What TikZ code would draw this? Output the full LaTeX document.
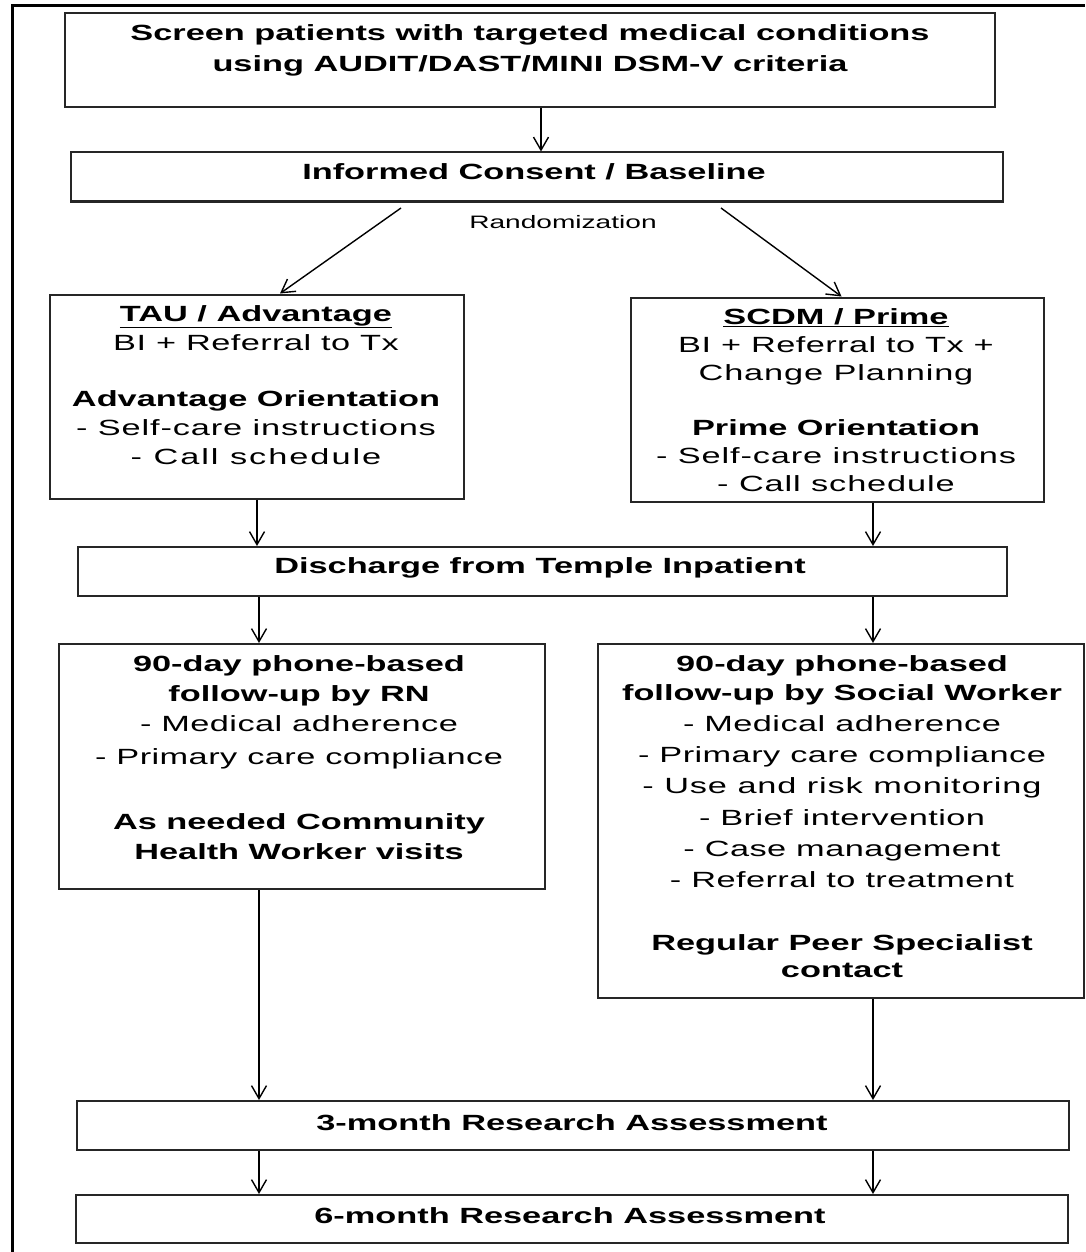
\documentclass[tikz,border=0pt]{standalone}
\usepackage{fontspec}
\setmainfont{Liberation Sans}[FakeStretch=1.56]
\newfontfamily\spaced{Liberation Sans}[FakeStretch=1.56,LetterSpace=2]
\newfontfamily\spacedm{Liberation Sans}[FakeStretch=1.56,LetterSpace=4]
\newfontfamily\spacedw{Liberation Sans}[FakeStretch=1.56,LetterSpace=9]
\usetikzlibrary{arrows.meta}
\tikzset{
  box/.style={draw=black!85, line width=2pt, inner sep=0pt, fill=none},
  arr/.style={line width=1.4pt, -{Straight Barb[length=13pt,width=15pt,line width=1.4pt]}},
  txt/.style={inner sep=0pt, align=center, font=\fontsize{22}{29}\selectfont},
  btxt/.style={inner sep=0pt, align=center, font=\fontsize{22}{29}\selectfont\bfseries},
}
\begin{document}
\begin{tikzpicture}[x=1pt,y=-1pt]
\useasboundingbox (0,0) rectangle (1085,1252);
% outer frame (top and left only)
\draw[line width=3pt] (12,1252) -- (12,6) -- (1085,6);

% boxes
\node[box, minimum width=930pt, minimum height=94pt] (b1) at (530,60) {};
\node[box, minimum width=932pt, minimum height=49pt] (b2) at (537,177) {};
\node[box, minimum width=414pt, minimum height=204pt] (tau) at (257,396.5) {};
\node[box, minimum width=413pt, minimum height=204pt] (scdm) at (837.5,399.5) {};
\node[box, minimum width=929pt, minimum height=49pt] (dis) at (542.5,571.5) {};
\node[box, minimum width=486pt, minimum height=245pt] (rn) at (301.5,766.5) {};
\node[box, minimum width=486pt, minimum height=354pt] (sw) at (841,821) {};
\node[box, minimum width=992pt, minimum height=49pt] (m3) at (572.5,1125.5) {};
\node[box, minimum width=992pt, minimum height=48pt] (m6) at (571.5,1219) {};

% texts
\node[btxt, anchor=north, font=\fontsize{22}{31}\selectfont\bfseries] (t1) at (530,24)
  {Screen patients with targeted medical conditions\\using AUDIT/DAST/MINI DSM-V criteria};
\node[btxt] (t2) at (534,172) {Informed Consent / Baseline};
\node[txt, font=\fontsize{18}{22}\selectfont] (trand) at (563,222) {Randomization};
\node[txt, anchor=north] (ttau) at (256,305)
  {\textbf{\underline{TAU / Advantage}}\\{\spaced BI + Referral to Tx}\\[27pt]
   \textbf{Advantage Orientation}\\{\spacedm - Self-care instructions}\\{\spacedw - Call schedule}};
\node[txt, anchor=north, font=\fontsize{22}{28}\selectfont] (tscdm) at (836,308)
  {\textbf{\underline{SCDM / Prime}}\\{\spaced BI + Referral to Tx +}\\{\spacedm Change Planning}\\[27pt]
   \textbf{Prime Orientation}\\{\spacedm - Self-care instructions}\\{\spacedm - Call schedule}};
\node[btxt] (tdis) at (540,568) {Discharge from Temple Inpatient};
\node[txt, anchor=north, font=\fontsize{22}{30}\selectfont] (trn) at (299,655)
  {\textbf{90-day phone-based}\\\textbf{follow-up by RN}\\{\spaced - Medical adherence}\\[3pt]
   {\spaced - Primary care compliance}\\[35pt]
   \textbf{As needed Community}\\\textbf{Health Worker visits}};
\node[txt, anchor=north, font=\fontsize{22}{31.2}\selectfont] (tsw) at (842,655)
  {\textbf{90-day phone-based}\\[-2pt]\textbf{follow-up by Social Worker}\\{\spaced - Medical adherence}\\
   {\spaced - Primary care compliance}\\{\spacedm - Use and risk monitoring}\\
   {\spaced - Brief intervention}\\{\spaced - Case management}\\{\spaced - Referral to treatment}\\[32pt]
   \textbf{Regular Peer Specialist}\\[-4pt]\textbf{contact}};
\node[btxt] (t3) at (572,1123) {3-month Research Assessment};
\node[btxt] (t6) at (570,1216) {6-month Research Assessment};

% connectors
\coordinate (xL) at (259,0);
\coordinate (xR) at (873,0);
\coordinate (rl) at (401,208);
\coordinate (rr) at (721,208);
\draw[arr] ([xshift=11pt]b1.south) -- ([xshift=11pt]b1.south |- b2.north);
\draw[arr] (rl) -- ([xshift=23pt]tau.north);
\draw[arr] (rr) -- ([xshift=4pt]scdm.north);
\draw[arr] (tau.south) -- (tau.south |- dis.north);
\draw[arr] (scdm.south -| xR) -- (dis.north -| xR);
\draw[arr] (dis.south -| xL) -- (rn.north -| xL);
\draw[arr] (dis.south -| xR) -- (sw.north -| xR);
\draw[arr] (rn.south -| xL) -- (m3.north -| xL);
\draw[arr] (sw.south -| xR) -- (m3.north -| xR);
\draw[arr] (m3.south -| xL) -- (m6.north -| xL);
\draw[arr] (m3.south -| xR) -- (m6.north -| xR);
\end{tikzpicture}
\end{document}
